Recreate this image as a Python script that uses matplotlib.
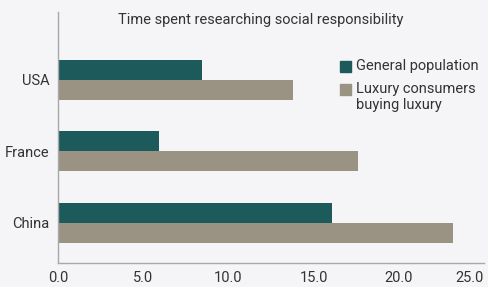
import matplotlib.pyplot as plt
from matplotlib.patches import Rectangle
import numpy as np

# Chart data
countries = ["China", "France", "USA"]
general_population = [16.1, 5.9, 8.45]
luxury_consumers = [23.2, 17.6, 13.8]
x_ticks = [0, 5, 10, 15, 20, 25]
series_labels = ["General population", "Luxury consumers\nbuying luxury"]

BG = "#f5f4f7"
TEAL = "#1c5a5c"
TAUPE = "#9a9384"
TEXT = "#333333"

plt.rcParams["font.family"] = ["Roboto", "DejaVu Sans"]

W, H = 488, 287
fig = plt.figure(figsize=(W / 100, H / 100), dpi=100, facecolor=BG)
ax = fig.add_axes([58 / W, 1 - 263 / H, (484 - 58) / W, (263 - 12) / H])
ax.set_facecolor(BG)

pos = np.arange(len(countries))
h = 0.28
ax.barh(pos + h / 2, general_population, height=h, color=TEAL)
ax.barh(pos - h / 2, luxury_consumers, height=h, color=TAUPE)

ax.set_xlim(0, 25)
ax.set_ylim(-0.56, 2.95)
ax.set_xticks(x_ticks)
ax.set_xticklabels([f"{t:.1f}" for t in x_ticks])
ax.get_xticklabels()[-1].set_ha("right")
ax.get_xticklabels()[-1].set_x(25.15)
ax.set_yticks(pos)
ax.set_yticklabels(countries)
ax.tick_params(length=0, labelsize=10.5, colors=TEXT, pad=6)

for s in ["top", "right"]:
    ax.spines[s].set_visible(False)
for s in ["left", "bottom"]:
    ax.spines[s].set_color("#a8a8a8")
    ax.spines[s].set_linewidth(1)

fig.text(261 / W, 1 - 20 / H, "Time spent researching social responsibility",
         ha="center", va="center", fontsize=10.5, color=TEXT)

# legend drawn by hand so the swatch lines up with the first text line
legend_rows = [66, 89]
for label, color, y in zip(series_labels, [TEAL, TAUPE], legend_rows):
    fig.patches.append(Rectangle((340 / W, 1 - (y + 5.5) / H), 11 / W, 11 / H,
                                 transform=fig.transFigure, color=color))
    fig.text(356 / W, 1 - (y - 7) / H, label, ha="left", va="top", fontsize=10.5,
             color=TEXT, linespacing=1.15)

fig.savefig("out.png", dpi=100, facecolor=BG)
